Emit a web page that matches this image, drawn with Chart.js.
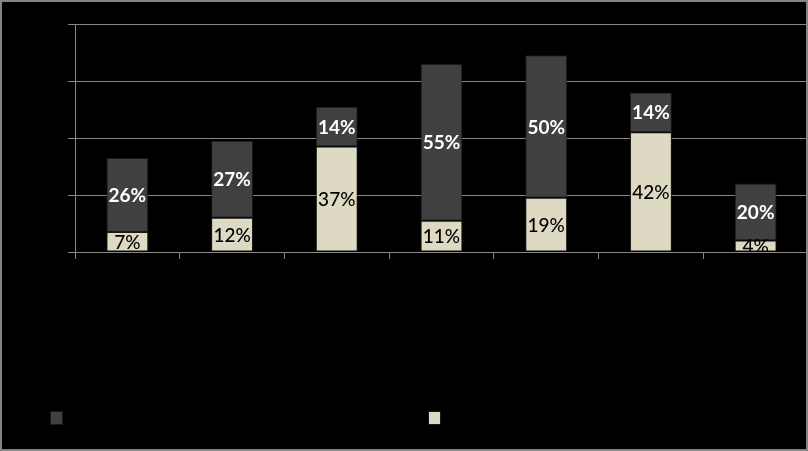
<!DOCTYPE html>
<html>
<head>
<meta charset="utf-8">
<script src="https://cdn.jsdelivr.net/npm/chart.js@4.4.1/dist/chart.umd.min.js"></script>
<style>
    html, body { margin: 0; padding: 0; background: #000; }
    .frame { position: relative; width: 808px; height: 451px; }
    .frame::after {
        content: '';
        position: absolute;
        inset: 0;
        border: 2px solid #858585;
        pointer-events: none;
    }
    canvas { display: block; }
</style>
</head>
<body>
<div class="frame"><canvas id="mainChart" width="808" height="451"></canvas></div>
<script>
// values (percent)
const categories = ['1', '2', '3', '4', '5', '6', '7'];
const lowerShare = [7, 12, 37, 11, 19, 42, 4];
const upperShare = [26, 27, 14, 55, 50, 14, 20];
const seriesNames = ['', ''];
const yMin = 0;
const yMax = 80;
const yStep = 20;

const COLORS = {
    UPPER: '#404040',
    LOWER: '#DDD9C3',
    EDGE: '#1a1a1a',
    GRID: '#868686'
};

// legend key: swatch at the left of a wide slot, so the keys sit where Excel put them
const KEY_SLOT = 348;
function legendSwatch(fill) {
    const c = document.createElement('canvas');
    c.width = KEY_SLOT;
    c.height = 14;
    const g = c.getContext('2d');
    g.fillStyle = fill;
    g.fillRect(0, 0, 13, 14);
    g.strokeStyle = COLORS.EDGE;
    g.lineWidth = 1;
    g.strokeRect(0.5, 0.5, 12, 13);
    return c;
}

// percent labels centred in each segment
const segmentLabels = {
    id: 'segmentLabels',
    afterDatasetsDraw(chart) {
        const { ctx, chartArea } = chart;
        ctx.save();
        ctx.beginPath();
        ctx.rect(chartArea.left, chartArea.top, chartArea.width, chartArea.height);
        ctx.clip();
        ctx.textAlign = 'center';
        ctx.textBaseline = 'middle';
        chart.data.datasets.forEach((ds, i) => {
            ctx.font = ds.labelFont;
            ctx.fillStyle = ds.labelColor;
            chart.getDatasetMeta(i).data.forEach((bar, j) => {
                ctx.fillText(ds.data[j] + '%', bar.x, (bar.y + bar.base) / 2 + 1);
            });
        });
        ctx.restore();
    }
};

const ctx = document.getElementById('mainChart').getContext('2d');

new Chart(ctx, {
    type: 'bar',
    data: {
        labels: categories,
        datasets: [
            {
                label: seriesNames[1],
                data: lowerShare,
                backgroundColor: COLORS.LOWER,
                borderColor: COLORS.EDGE,
                borderWidth: 1,
                borderSkipped: false,
                labelFont: '500 19px Lato',
                labelColor: '#000'
            },
            {
                label: seriesNames[0],
                data: upperShare,
                backgroundColor: COLORS.UPPER,
                borderColor: COLORS.EDGE,
                borderWidth: 1,
                borderSkipped: false,
                labelFont: 'bold 19px Lato',
                labelColor: '#fff'
            }
        ]
    },
    options: {
        responsive: false,
        animation: false,
        devicePixelRatio: 1,
        barPercentage: 0.4,
        categoryPercentage: 1,
        layout: { padding: { top: 24, left: 26, right: 0, bottom: 17 } },
        plugins: {
            tooltip: { enabled: false },
            legend: {
                position: 'bottom',
                align: 'start',
                reverse: true,
                labels: {
                    usePointStyle: true,
                    pointStyleWidth: KEY_SLOT,
                    padding: 24,
                    font: { size: 12 },
                    generateLabels: chart => Chart.defaults.plugins.legend.labels.generateLabels(chart)
                        .map(item => ({
                            ...item,
                            pointStyle: legendSwatch(item.datasetIndex === 0 ? COLORS.LOWER : COLORS.UPPER)
                        }))
                }
            }
        },
        scales: {
            x: {
                stacked: true,
                ticks: { display: false },
                grid: { drawOnChartArea: false, color: COLORS.GRID, tickLength: 7 },
                border: { color: COLORS.GRID },
                afterFit: scale => { scale.height = 136; }
            },
            y: {
                stacked: true,
                min: yMin,
                max: yMax,
                ticks: { display: false, stepSize: yStep },
                grid: { color: COLORS.GRID, tickLength: 7 },
                border: { color: COLORS.GRID },
                afterFit: scale => { scale.width = 49; }
            }
        }
    },
    plugins: [segmentLabels]
});
</script>
</body>
</html>
